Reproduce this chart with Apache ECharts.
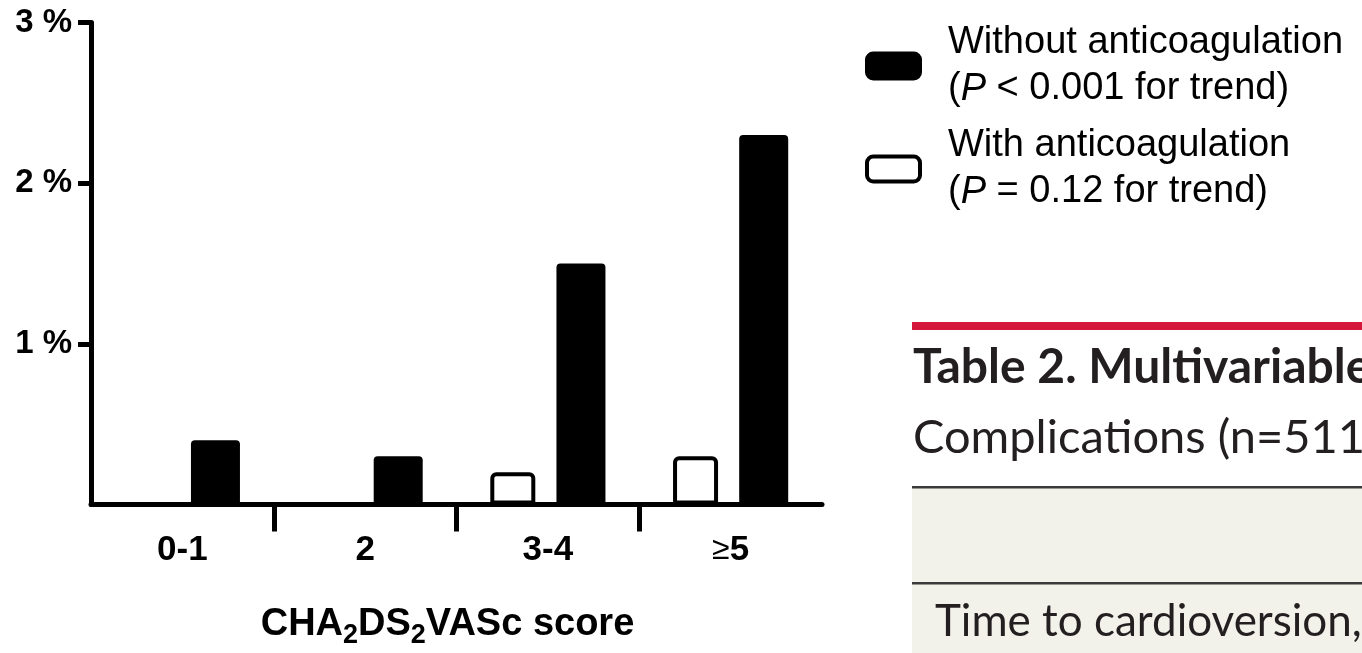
<!DOCTYPE html>
<html>
<head>
<meta charset="utf-8">
<script src="https://cdn.jsdelivr.net/npm/echarts@6/dist/echarts.min.js"></script>
<style>
  html, body { margin: 0; padding: 0; background: #ffffff; }
  #chart { width: 1362px; height: 653px; }
</style>
</head>
<body>
<div id="chart"></div>
<script>
// CHA2DS2VASc score groups on the x axis
const categories = ['0-1', '2', '3-4', '≥5'];

// Series names and their trend notes
const seriesNames = ['Without anticoagulation', 'With anticoagulation'];
const trendNotes = ['< 0.001', '= 0.12'];

// Event rates (%) per score group
const withoutAnticoag = [0.4, 0.3, 1.5, 2.3];
const withAnticoag = [null, null, 0.2, 0.3];

// Labelled y ticks (%)
const yTicks = [1, 2, 3];

// Separators drawn between neighbouring score groups
const groupSeparators = categories.slice(1).map((_, i) => i + 1);

// Text of the table heading shown beside the chart
const tableTitle = ['Table 2. Multivariable', 'Complications (n=511'];
const tableRow = 'Time to cardioversion,';

const SANS = 'Liberation Sans, Arial, sans-serif';
const TABLE_FONT = 'Lato, Open Sans, sans-serif';

const chart = echarts.init(document.getElementById('chart'));

const legendText = {};
seriesNames.forEach((n, i) => {
  legendText[n] = n + '\n({i|P} ' + trendNotes[i] + ' for trend)';
});

chart.setOption({
  backgroundColor: '#ffffff',
  animation: false,
  grid: {
    left: 91,
    right: 540,
    top: 22.5,
    bottom: 148.5,
    containLabel: false,
    outerBoundsMode: 'none'
  },
  legend: {
    orient: 'vertical',
    left: 860,
    top: 15,
    itemWidth: 53,
    itemHeight: 25,
    itemGap: 11,
    selectedMode: false,
    data: [
      { name: seriesNames[0], itemStyle: { color: '#000', borderColor: '#000', borderWidth: 4 } },
      { name: seriesNames[1], itemStyle: { color: '#fff', borderColor: '#000', borderWidth: 4 } }
    ],
    formatter: name => legendText[name],
    textStyle: {
      fontFamily: SANS,
      fontSize: 38,
      lineHeight: 46,
      color: '#000',
      padding: [0, 0, 0, 23],
      rich: {
        i: { fontFamily: SANS, fontSize: 38, lineHeight: 46, fontStyle: 'italic', color: '#000' }
      }
    }
  },
  xAxis: [
    {
      type: 'category',
      data: categories,
      position: 'bottom',
      axisLine: { show: true, lineStyle: { color: '#000', width: 5 } },
      axisTick: { show: false },
      axisLabel: {
        color: '#000',
        fontFamily: SANS,
        fontSize: 35,
        fontWeight: 'bold',
        margin: 28,
        formatter: v => v.charAt(0) === '≥' ? '{ge|≥}' + v.slice(1) : v,
        rich: {
          ge: { fontFamily: SANS, fontSize: 32, fontWeight: 'normal', color: '#000' }
        }
      },
      splitLine: { show: false },
      name: '{b|CHA}{s|2}{b|DS}{s|2}{b|VASc score}',
      nameLocation: 'middle',
      nameGap: 97,
      nameTextStyle: {
        padding: [0, 18, 0, 0],
        rich: {
          b: { fontFamily: SANS, fontSize: 38, fontWeight: 'bold', color: '#000', lineHeight: 46 },
          s: { fontFamily: SANS, fontSize: 27, fontWeight: 'bold', color: '#000', lineHeight: 24, padding: [22, 0, 0, 0] }
        }
      }
    },
    {
      type: 'value',
      min: 0,
      max: categories.length,
      interval: 1,
      position: 'bottom',
      axisLine: { show: false },
      axisLabel: { show: false },
      splitLine: { show: false },
      axisTick: {
        show: true,
        customValues: groupSeparators,
        length: 27,
        lineStyle: { color: '#000', width: 5 }
      }
    }
  ],
  yAxis: {
    type: 'value',
    min: 0,
    max: 3,
    interval: 1,
    axisLine: { show: true, lineStyle: { color: '#000', width: 5 } },
    axisTick: {
      show: true,
      customValues: yTicks,
      length: 13,
      lineStyle: { color: '#000', width: 5 }
    },
    axisLabel: {
      customValues: yTicks,
      formatter: '{value} %',
      color: '#000',
      fontFamily: SANS,
      fontSize: 33,
      fontWeight: 'bold',
      margin: 19,
      padding: [4, 0, 0, 0]
    },
    splitLine: { show: false }
  },
  series: [
    {
      name: seriesNames[1],
      type: 'bar',
      xAxisIndex: 0,
      data: withAnticoag,
      barWidth: 45,
      barGap: '47%',
      silent: true,
      emphasis: { disabled: true },
      itemStyle: { color: '#fff', borderColor: '#000', borderWidth: 4, borderRadius: [4, 4, 0, 0] }
    },
    {
      name: seriesNames[0],
      type: 'bar',
      xAxisIndex: 0,
      data: withoutAnticoag,
      barWidth: 49,
      barGap: '47%',
      silent: true,
      emphasis: { disabled: true },
      itemStyle: { color: '#000', borderRadius: [4, 4, 0, 0] }
    }
  ],
  graphic: [
    { type: 'rect', silent: true, shape: { x: 912, y: 322, width: 450, height: 8 }, style: { fill: '#d5173b' } },
    { type: 'rect', silent: true, shape: { x: 912, y: 487, width: 450, height: 166 }, style: { fill: '#f2f1ea' } },
    { type: 'rect', silent: true, shape: { x: 912, y: 486, width: 450, height: 2.5 }, style: { fill: '#3a3a3a' } },
    { type: 'rect', silent: true, shape: { x: 912, y: 582, width: 450, height: 2.5 }, style: { fill: '#3a3a3a' } },
    { type: 'text', silent: true, x: 913, y: 368,
      style: { text: tableTitle[0], font: 'bold 48px ' + TABLE_FONT, fill: '#231f20', verticalAlign: 'middle' } },
    { type: 'text', silent: true, x: 913, y: 438,
      style: { text: tableTitle[1], font: '47px ' + TABLE_FONT, fill: '#231f20', verticalAlign: 'middle' } },
    { type: 'text', silent: true, x: 935, y: 622,
      style: { text: tableRow, font: '44px ' + TABLE_FONT, fill: '#231f20', verticalAlign: 'middle' } }
  ]
});
</script>
</body>
</html>
